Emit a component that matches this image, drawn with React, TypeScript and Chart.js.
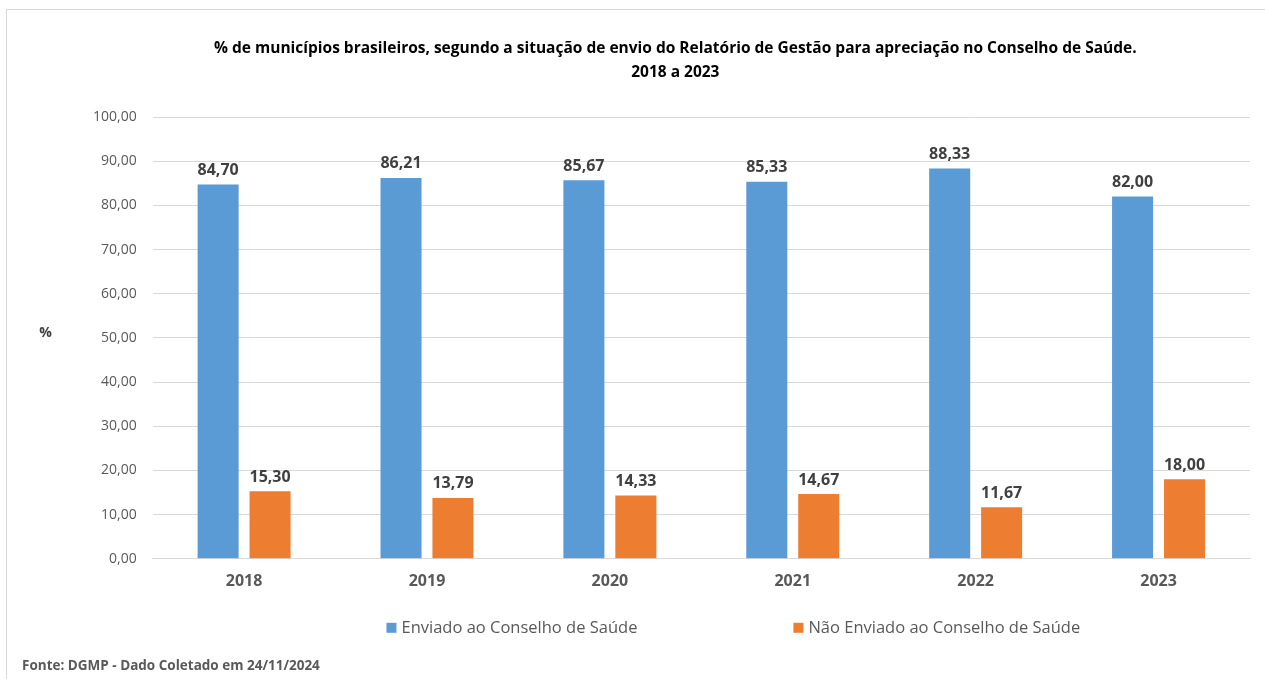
import React, { useEffect, useRef } from 'react';
import { Chart, registerables } from 'chart.js';

Chart.register(...registerables);

const years = ['2018', '2019', '2020', '2021', '2022', '2023'];
const enviado = [84.7, 86.21, 85.67, 85.33, 88.33, 82.0];
const naoEnviado = [15.3, 13.79, 14.33, 14.67, 11.67, 18.0];
const seriesNames = ['Enviado ao Conselho de Saúde', 'Não Enviado ao Conselho de Saúde'];
const seriesColors = ['#5B9BD5', '#ED7D31'];
const titleLines = [
  '% de municípios brasileiros, segundo a situação de envio do Relatório de Gestão para apreciação no Conselho de Saúde.',
  '2018 a 2023',
];
const yAxisTitle = '%';
const footerText = 'Fonte: DGMP - Dado Coletado em 24/11/2024';
const yMax = 100;
const yStep = 10;

const FONT = '"Open Sans", sans-serif';
const fmt = (v: number) => v.toFixed(2).replace('.', ',');

const labelsPlugin = {
  id: 'valueLabels',
  afterDatasetsDraw(chart: any) {
    const ctx = chart.ctx;
    ctx.save();
    ctx.font = `bold 16px ${FONT}`;
    ctx.fillStyle = '#404040';
    ctx.textAlign = 'center';
    ctx.textBaseline = 'bottom';
    chart.data.datasets.forEach((ds: any, i: number) => {
      const meta = chart.getDatasetMeta(i);
      meta.data.forEach((el: any, j: number) => {
        ctx.fillText(fmt(ds.data[j]), el.x, el.y - 6);
      });
    });
    ctx.restore();
  },
};

const extrasPlugin = {
  id: 'extras',
  afterDraw(chart: any) {
    const ctx = chart.ctx;
    const area = chart.chartArea;
    ctx.save();
    // title
    ctx.font = `bold 15.5px ${FONT}`;
    ctx.fillStyle = '#000000';
    ctx.textAlign = 'center';
    ctx.textBaseline = 'middle';
    const tx = (area.left + area.right) / 2 - 26;
    titleLines.forEach((line, i) => {
      ctx.fillText(line, tx, area.top - 68 + i * 24);
    });

    // y axis title
    ctx.font = `bold 14px ${FONT}`;
    ctx.fillStyle = '#404040';
    ctx.fillText(yAxisTitle, area.left - 107, (area.top + area.bottom) / 2 - 5);

    // legend
    ctx.font = `16.5px ${FONT}`;
    const box = 10;
    const gapText = 5;
    const gapItems = 156;
    const widths = seriesNames.map((n) => box + gapText + ctx.measureText(n).width);
    const total = widths.reduce((a, b) => a + b, 0) + gapItems * (widths.length - 1);
    let x = (area.left + area.right) / 2 + 32 - total / 2;
    const ly = area.bottom + 69;
    ctx.textAlign = 'left';
    ctx.textBaseline = 'middle';
    seriesNames.forEach((n, i) => {
      ctx.fillStyle = seriesColors[i];
      ctx.fillRect(x, ly - box / 2, box, box);
      ctx.fillStyle = '#595959';
      ctx.fillText(n, x + box + gapText, ly);
      x += widths[i] + gapItems;
    });

    // footer
    ctx.font = `bold 13.5px ${FONT}`;
    ctx.fillStyle = '#595959';
    ctx.textAlign = 'left';
    ctx.textBaseline = 'middle';
    ctx.fillText(footerText, 22, area.bottom + 107);
    ctx.restore();
  },
};

export default function App() {
  const ref = useRef<HTMLCanvasElement>(null);
  useEffect(() => {
    if (!ref.current) return;
    const chart = new Chart(ref.current, {
      type: 'bar',
      data: {
        labels: years,
        datasets: [
          { label: seriesNames[0], data: enviado, backgroundColor: seriesColors[0] },
          { label: seriesNames[1], data: naoEnviado, backgroundColor: seriesColors[1] },
        ],
      },
      options: {
        animation: false,
        responsive: false,
        maintainAspectRatio: false,
        layout: { padding: { left: 77, right: 15, top: 117, bottom: 75 } },
        datasets: { bar: { categoryPercentage: 0.568, barPercentage: 0.79 } },
        plugins: {
          legend: { display: false },
          tooltip: { enabled: false },
          title: { display: false },
        },
        scales: {
          x: {
            grid: { display: false, drawTicks: false },
            border: { display: true, color: '#d9d9d9' },
            ticks: { color: '#595959', font: { family: FONT, size: 16, weight: 'bold' }, padding: 13 },
          },
          y: {
            min: 0,
            max: yMax,
            grid: { color: '#d9d9d9', drawTicks: false },
            border: { display: false },
            ticks: {
              stepSize: yStep,
              color: '#595959',
              padding: 16,
              font: { family: FONT, size: 14 },
              callback: (v: any) => fmt(Number(v)),
            },
          },
        },
      },
      plugins: [labelsPlugin, extrasPlugin],
    });
    return () => chart.destroy();
  }, []);
  return (
    <div style={{ position: 'fixed', left: 0, top: 0, width: 1265, height: 679, background: '#ffffff', overflow: 'hidden' }}>
      <div style={{ position: 'absolute', left: 6, top: 9, width: 1300, height: 700, border: '1px solid #d9d9d9' }} />
      <canvas ref={ref} width={1265} height={679} style={{ position: 'absolute', left: 0, top: 0, width: 1265, height: 679 }} />
    </div>
  );
}
